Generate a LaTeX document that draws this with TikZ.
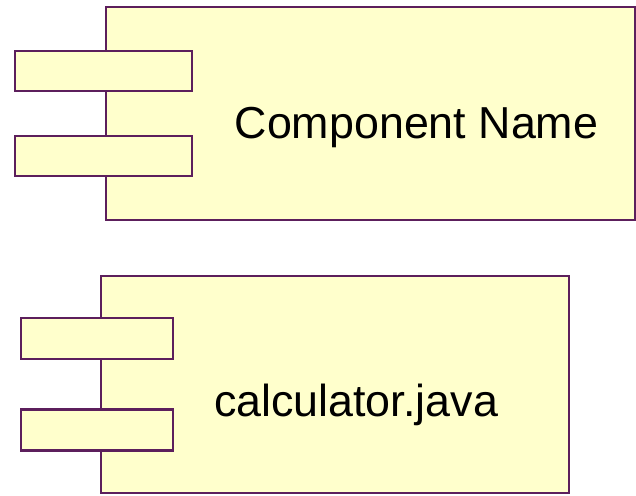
\documentclass[tikz,border=0pt]{standalone}
\usepackage{fontspec}
\setmainfont{Liberation Sans}
\usepackage{tikz}
\usetikzlibrary{shapes}
\definecolor{compfill}{rgb}{1.00,1.00,0.80}
\definecolor{compline}{rgb}{0.36,0.12,0.36}
\tikzstyle{compbody}=[rectangle, draw=compline, fill=compfill, line width=1.3pt, inner sep=0pt]
\tikzstyle{compport}=[rectangle, draw=compline, fill=compfill, line width=1.3pt, inner sep=0pt]
\tikzstyle{complabel}=[inner sep=0pt, font=\fontsize{25.5}{30}\selectfont]
\newcommand{\compbody}[4]{
	\node[compbody, minimum width=#3, minimum height=#4] (#1) at (#2) {};}
\newcommand{\compport}[2]{
	\node[compport, minimum width=3.54cm, minimum height=0.8cm] (#1) at (#2) {};}
\newcommand{\compportb}[2]{
	\node[compport, minimum width=3.04cm, minimum height=0.82cm] (#1) at (#2) {};}

\begin{document}
\begin{tikzpicture}[x=0.02cm, y=-0.02cm]
\useasboundingbox (0,0) rectangle (636,496);
% component name
\compbody{namebody}{370.5,113.5}{10.58cm}{4.26cm}
\compport{nameportA}{103.5,71}
\compport{nameportB}{103.5,156}
\node[complabel] (namelabel) at (416.5,128) {Component Name};
% calculator.java
\compbody{calcbody}{335,384.5}{9.36cm}{4.34cm}
\compportb{calcportA}{97,338.5}
\compportb{calcportB}{97,430}
\node[complabel] (calclabel) at (356,405) {calculator.java};
\end{tikzpicture}
\end{document}
